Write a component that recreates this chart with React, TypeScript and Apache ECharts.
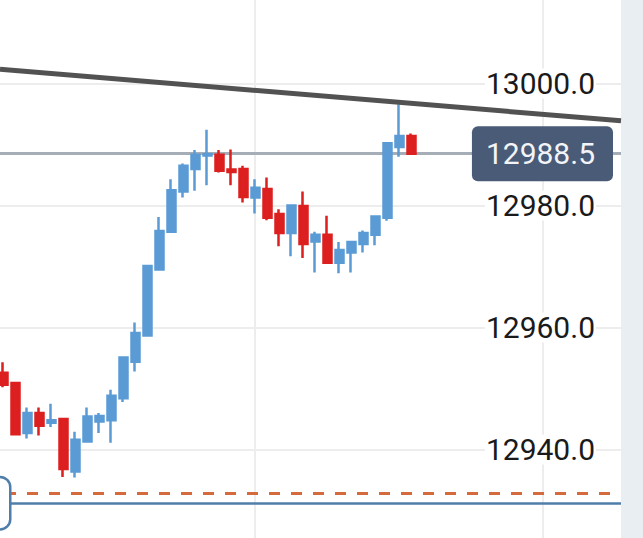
import * as React from "react";
import * as echarts from "echarts";

// one entry per candle, left to right (first candle is cut by the left edge)
const opens = [
  12952.6, 12950.9, 12942.7, 12946.0, 12944.4, 12945.0, 12936.4, 12941.3, 12944.6, 12944.8,
  12948.4, 12954.4, 12958.7, 12969.5, 12975.7, 12982.3, 12986.0, 12988.2, 12988.3, 12985.9,
  12986.0, 12981.3, 12982.7, 12978.6, 12975.5, 12979.9, 12974.1, 12975.2, 12970.6, 12972.3,
  12973.7, 12975.2, 12978.0, 12989.6, 12991.4,
];
const closes = [
  12950.6, 12942.5, 12946.0, 12943.9, 12944.8, 12936.8, 12941.6, 12945.4, 12945.5, 12948.8,
  12955.1, 12959.1, 12970.1, 12975.8, 12982.5, 12986.5, 12988.3, 12988.4, 12985.7, 12985.5,
  12981.4, 12982.9, 12978.0, 12975.5, 12980.0, 12973.7, 12975.2, 12970.6, 12972.7, 12974.0,
  12975.5, 12978.2, 12990.2, 12991.4, 12988.5,
];
const lows = [
  12950.2, 12942.5, 12941.8, 12942.3, 12943.7, 12935.5, 12935.4, 12941.1, 12942.7, 12941.1,
  12947.8, 12952.8, 12958.7, 12969.5, 12975.5, 12981.3, 12982.4, 12983.3, 12985.4, 12983.3,
  12980.5, 12978.7, 12977.6, 12973.3, 12971.7, 12971.4, 12969.0, 12970.6, 12968.9, 12969.0,
  12972.3, 12973.5, 12977.5, 12988.0, 12988.5,
];
const highs = [
  12954.3, 12950.9, 12946.9, 12946.9, 12947.5, 12945.0, 12942.9, 12946.9, 12946.0, 12949.8,
  12955.3, 12960.8, 12970.1, 12978.1, 12984.3, 12986.9, 12989.1, 12992.4, 12989.1, 12989.2,
  12986.5, 12984.3, 12984.6, 12979.4, 12980.0, 12982.3, 12975.7, 12978.3, 12974.0, 12974.0,
  12975.9, 12978.3, 12990.4, 12996.6, 12991.8,
];
const firstSlot = 3; // x slot of the first candle
const timeGridSlots = [24, 48]; // vertical grid lines

const lastPrice = 12988.5;
const orderLevel = 12932.8; // dashed orange
const positionLevel = 12931.2; // solid blue
const trendStart = [2.75, 13002.33];
const trendEnd = [54.5, 12993.89];

// visible window
const xMin = 2.75;
const xMax = 54.5;
const yMin = 12925.49;
const yMax = 13013.69;

const UP = "#5b9bd5";
const DOWN = "#dc1f1f";
const GRID = "#ededed";
const LABEL_SIZE = 30;

export default function App() {
  const ref = React.useRef<HTMLDivElement | null>(null);

  React.useEffect(() => {
    document.body.style.margin = "0";
    if (!ref.current) return;
    const chart = echarts.init(ref.current, undefined, { renderer: "svg" });

    const candles = opens.map((o, i) => [firstSlot + i, o, closes[i], lows[i], highs[i]]);

    const option: echarts.EChartsOption = {
      animation: false,
      backgroundColor: "#e8eef1",
      textStyle: { fontFamily: "Roboto" },
      grid: {
        show: true,
        backgroundColor: "#ffffff",
        borderWidth: 0,
        left: 0,
        right: 22,
        top: 0,
        bottom: 0,
      },
      xAxis: {
        type: "value",
        min: xMin,
        max: xMax,
        axisLine: { show: false },
        axisTick: { show: false },
        axisLabel: { show: false },
        splitLine: { show: false },
      },
      yAxis: {
        type: "value",
        position: "right",
        min: yMin,
        max: yMax,
        splitNumber: 5,
        axisLine: { show: false },
        axisTick: { show: false },
        splitLine: {
          show: true,
          showMinLine: false,
          showMaxLine: false,
          lineStyle: { color: GRID, width: 2 },
        },
        axisLabel: {
          inside: true,
          margin: 25,
          showMinLabel: false,
          showMaxLabel: false,
          fontSize: LABEL_SIZE,
          fontFamily: "Roboto",
          color: "#1a1a1a",
          backgroundColor: "#ffffff",
          padding: [0, 1],
          formatter: (v: number) => v.toFixed(1),
        },
        z: 2,
      },
      series: [
        {
          type: "candlestick",
          data: candles,
          barWidth: 8.5,
          z: 3,
          itemStyle: {
            color: UP,
            color0: DOWN,
            borderColor: UP,
            borderColor0: DOWN,
            borderWidth: 2.5,
          },
          markLine: {
            z: 1,
            silent: true,
            animation: false,
            symbol: ["none", "none"],
            data: [
              ...timeGridSlots.map((x) => ({
                xAxis: x,
                lineStyle: { color: GRID, width: 2, type: "solid" as const },
                label: { show: false },
              })),
              {
                yAxis: lastPrice,
                lineStyle: { color: "#a5adb7", width: 3, type: "solid" },
                label: {
                  show: true,
                  position: "insideEnd",
                  distance: 8,
                  formatter: () => lastPrice.toFixed(1),
                  color: "#f2f4f7",
                  fontSize: LABEL_SIZE,
                  fontFamily: "Roboto",
                  lineHeight: 35,
                  backgroundColor: "#4a5b78",
                  borderRadius: 6,
                  padding: [10, 18, 10, 14],
                },
              },
              {
                yAxis: orderLevel,
                lineStyle: { color: "#d46b3c", width: 3, type: [11, 11], dashOffset: 17.3 },
                label: { show: false },
              },
              {
                yAxis: positionLevel,
                lineStyle: { color: "#4f7eab", width: 2.5, type: "solid" },
                label: {
                  show: true,
                  position: "start",
                  distance: -9,
                  formatter: " ",
                  width: 60,
                  height: 50,
                  backgroundColor: "#ffffff",
                  borderColor: "#4f7eab",
                  borderWidth: 2.5,
                  borderRadius: 9,
                },
              },
            ],
          },
        },
        {
          type: "line",
          data: [trendStart, trendEnd],
          z: 4,
          symbol: "none",
          silent: true,
          lineStyle: { color: "#525252", width: 5 },
        },
      ],
    };

    chart.setOption(option);
    return () => chart.dispose();
  }, []);

  return <div ref={ref} style={{ width: 643, height: 538 }} />;
}
